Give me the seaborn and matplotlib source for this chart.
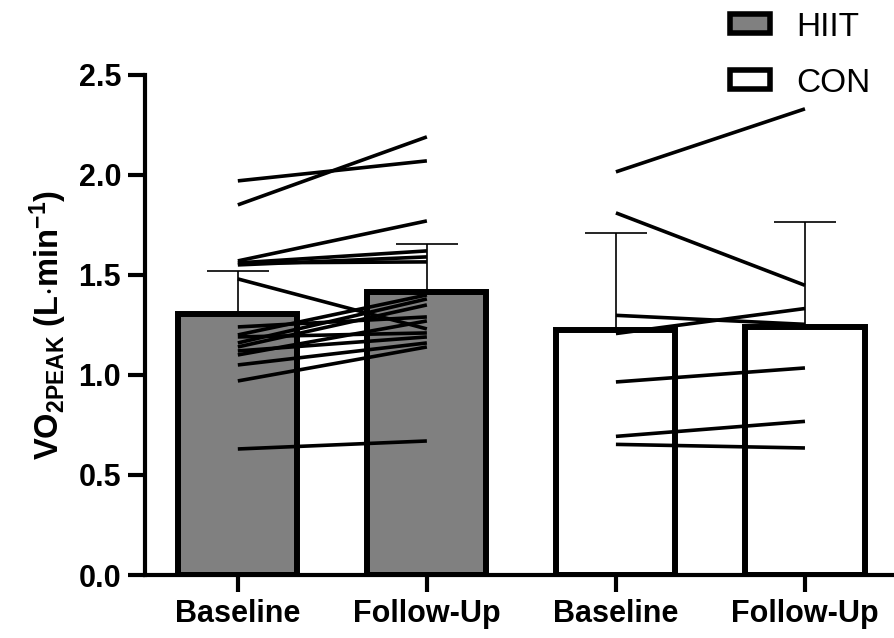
import matplotlib
matplotlib.use("Agg")
import matplotlib.pyplot as plt
import seaborn as sns
import pandas as pd
from matplotlib.patches import Patch

# ---- data ----
conditions = ["HIIT Baseline", "HIIT Follow-Up", "CON Baseline", "CON Follow-Up"]
tick_labels = ["Baseline", "Follow-Up", "Baseline", "Follow-Up"]
groups = ["HIIT", "HIIT", "CON", "CON"]
means = [1.305, 1.415, 1.225, 1.24]
sds = [0.215, 0.24, 0.485, 0.525]

hiit_base = [1.97, 1.85, 1.57, 1.56, 1.55, 1.56, 1.48, 1.24, 1.20, 1.19, 1.16, 1.14, 1.12, 1.10, 1.05, 0.97, 0.63]
hiit_follow = [2.07, 2.19, 1.77, 1.62, 1.59, 1.565, 1.23, 1.29, 1.40, 1.21, 1.38, 1.35, 1.19, 1.27, 1.16, 1.14, 0.67]
con_base = [2.015, 1.81, 1.298, 1.207, 0.965, 0.693, 0.653]
con_follow = [2.33, 1.448, 1.253, 1.332, 1.035, 0.768, 0.635]

group_colors = {"HIIT": "#808080", "CON": "#ffffff"}

sns.set_theme(style="ticks")
plt.rcParams["font.family"] = ["Liberation Sans", "DejaVu Sans"]
plt.rcParams["text.color"] = "black"
plt.rcParams["mathtext.fontset"] = "custom"
plt.rcParams["mathtext.rm"] = "Liberation Sans:bold"
plt.rcParams["mathtext.bf"] = "Liberation Sans:bold"
plt.rcParams["mathtext.default"] = "bf"

fig = plt.figure(figsize=(8.94, 6.38), dpi=100)
ax = fig.add_axes([0.162, 0.0987, 0.838, 0.784])

df = pd.DataFrame({"cond": conditions, "mean": means, "group": groups})
sns.barplot(data=df, x="cond", y="mean", hue="group", palette=group_colors,
            order=conditions, hue_order=["HIIT", "CON"], dodge=False,
            width=0.63, edgecolor="black", linewidth=4.3, legend=False,
            errorbar=None, ax=ax, zorder=2)

# upper-only SD error bars
ax.errorbar(range(len(conditions)), means, yerr=[[0] * 4, sds], fmt="none",
            ecolor="black", elinewidth=1.2, capsize=22, capthick=1.2, zorder=1)

# individual subject lines
for b, f in zip(hiit_base, hiit_follow):
    ax.plot([0, 1], [b, f], color="black", lw=2.6, solid_capstyle="butt", zorder=4, clip_on=False)
for b, f in zip(con_base, con_follow):
    ax.plot([2, 3], [b, f], color="black", lw=2.6, solid_capstyle="butt", zorder=4, clip_on=False)

ax.set_xlim(-0.492, 3.471)
ax.set_ylim(0, 2.5)
ax.set_yticks([0, 0.5, 1.0, 1.5, 2.0, 2.5])
ax.set_yticklabels([f"{v:.1f}" for v in [0, 0.5, 1.0, 1.5, 2.0, 2.5]])
ax.set_xticks(range(4))
ax.set_xticklabels(tick_labels)
for lab in ax.get_xticklabels() + ax.get_yticklabels():
    lab.set_fontweight("bold")
    lab.set_fontsize(22)
    lab.set_color("black")

ax.tick_params(axis="both", length=12, width=3, color="black", pad=5)
ax.set_xlabel("")
ax.set_ylabel(r"VO$_{2PEAK}$ (L$\cdot$min$^{-1}$)", fontsize=23.5, fontweight="bold",
              color="black", labelpad=7)
sns.despine(ax=ax)
for s in ["left", "bottom"]:
    ax.spines[s].set_linewidth(3)
    ax.spines[s].set_color("black")

handles = [Patch(facecolor=group_colors["HIIT"], edgecolor="black", linewidth=4, label="HIIT"),
           Patch(facecolor=group_colors["CON"], edgecolor="black", linewidth=4, label="CON")]
leg = fig.legend(handles=handles, loc="upper left", bbox_to_anchor=(0.798, 1.008),
                 frameon=False, fontsize=24, handlelength=1.2, handleheight=0.5,
                 handletextpad=0.8, labelspacing=0.75, borderpad=0)
for t in leg.get_texts():
    t.set_color("black")

fig.savefig("out.png", dpi=100)
